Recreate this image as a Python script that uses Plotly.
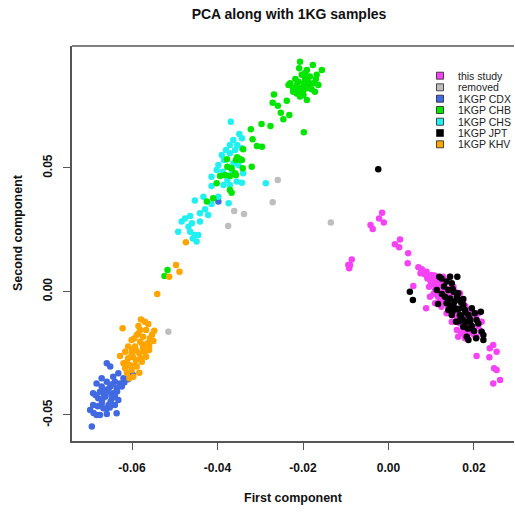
import plotly.graph_objects as go

# ---------------- data ----------------
this_study_x = [-0.0015, -0.0022, -0.0011, -0.0042, -0.0037, 0.0027, 0.0015, 0.0025, 0.0046, 0.0045,
                -0.0086, -0.0090, -0.0094, -0.0092,
                0.0070, 0.0078, 0.0089, 0.0075, 0.0101, 0.0113, 0.0091, 0.0105, 0.0128, 0.0144,
                0.0120, 0.0095, 0.0109, 0.0128, 0.0152, 0.0097, 0.0116, 0.0136, 0.0167, 0.0109,
                0.0124, 0.0144, 0.0175, 0.0088, 0.0136, 0.0152, 0.0187, 0.0210, 0.0148, 0.0167,
                0.0218, 0.0160, 0.0183, 0.0195, 0.0163, 0.0179, 0.0206, 0.0058,
                0.0245, 0.0237, 0.0253, 0.0206, 0.0236, 0.0247, 0.0253, 0.0245, 0.0261,
                0.0085, 0.0095, 0.0105, 0.0115, 0.0100, 0.0110, 0.0120, 0.0130, 0.0125, 0.0135,
                0.0140, 0.0145, 0.0150, 0.0130, 0.0120, 0.0140, 0.0155, 0.0160, 0.0145, 0.0165,
                0.0175, 0.0160, 0.0170, 0.0185, 0.0190, 0.0175, 0.0195, 0.0200, 0.0185, 0.0170,
                0.0115, 0.0105, 0.0098, 0.0090, 0.0080, 0.0125, 0.0108, 0.0135, 0.0155, 0.0165,
                0.0180, 0.0195, 0.0205, 0.0210, 0.0215]
this_study_y = [0.0319, 0.0296, 0.0279, 0.0269, 0.0253, 0.0211, 0.0191, 0.0179, 0.0155, 0.0114,
                0.0130, 0.0107, 0.0107, 0.0094,
                0.0098, 0.0090, 0.0080, 0.0074, 0.0067, 0.0060, 0.0053, 0.0040, 0.0060, 0.0060,
                0.0033, 0.0019, 0.0006, 0.0006, 0.0019, -0.0021, -0.0021, -0.0028, -0.0007, -0.0048,
                -0.0062, -0.0059, -0.0048, -0.0068, -0.0088, -0.0095, -0.0075, -0.0088, -0.0122, -0.0129,
                -0.0122, -0.0156, -0.0163, -0.0149, -0.0183, -0.0189, -0.0183, 0.0022,
                -0.0217, -0.0230, -0.0244, -0.0261, -0.0266, -0.0311, -0.0318, -0.0372, -0.0358,
                0.0070, 0.0060, 0.0050, 0.0045, 0.0030, 0.0020, 0.0010, 0.0020, -0.0010, -0.0005,
                0.0010, -0.0020, -0.0040, -0.0040, -0.0030, -0.0060, -0.0065, -0.0080, -0.0080, -0.0100,
                -0.0110, -0.0110, -0.0130, -0.0135, -0.0120, -0.0150, -0.0165, -0.0175, -0.0175, -0.0170,
                0.0000, -0.0010, 0.0045, 0.0065, 0.0080, 0.0035, 0.0065, 0.0040, 0.0000, -0.0030,
                -0.0060, -0.0090, -0.0110, -0.0140, -0.0160]

removed_x = [-0.0259, -0.0271, -0.0361, -0.0338, -0.0375, -0.0135, -0.0515]
removed_y = [0.0451, 0.0361, 0.0326, 0.0314, 0.0265, 0.0279, -0.0163]

cdx_x = [-0.0659, -0.0651, -0.0632, -0.0671, -0.0644, -0.0620, -0.0609, -0.0683, -0.0659, -0.0640,
         -0.0628, -0.0671, -0.0651, -0.0636, -0.0624, -0.0691, -0.0675, -0.0659, -0.0644, -0.0679,
         -0.0663, -0.0647, -0.0632, -0.0691, -0.0671, -0.0655, -0.0640, -0.0698, -0.0667, -0.0683,
         -0.0675, -0.0659, -0.0636, -0.0694, -0.0598, -0.0398,
         -0.0665, -0.0650, -0.0670, -0.0655, -0.0645, -0.0680, -0.0660, -0.0648, -0.0635, -0.0685,
         -0.0668, -0.0652, -0.0618, -0.0640, -0.0690]
cdx_y = [-0.0291, -0.0304, -0.0331, -0.0351, -0.0345, -0.0351, -0.0355, -0.0372, -0.0365, -0.0365,
         -0.0372, -0.0385, -0.0385, -0.0392, -0.0385, -0.0412, -0.0406, -0.0406, -0.0412, -0.0432,
         -0.0426, -0.0432, -0.0439, -0.0460, -0.0453, -0.0460, -0.0460, -0.0480, -0.0473, -0.0500,
         -0.0500, -0.0496, -0.0493, -0.0547, -0.0338, 0.0364,
         -0.0420, -0.0445, -0.0440, -0.0395, -0.0375, -0.0465, -0.0475, -0.0420, -0.0405, -0.0420,
         -0.0395, -0.0470, -0.0368, -0.0425, -0.0492]

chb_x = [-0.0207, -0.0209, -0.0177, -0.0191, -0.0156, -0.0168, -0.0184, -0.0203, -0.0211, -0.0230,
         -0.0234, -0.0215, -0.0199, -0.0188, -0.0176, -0.0164, -0.0223, -0.0207, -0.0191, -0.0180,
         -0.0215, -0.0199, -0.0172, -0.0191, -0.0207, -0.0223, -0.0199, -0.0211,
         -0.0195, -0.0185, -0.0200, -0.0218, -0.0170, -0.0195,
         -0.0268, -0.0271, -0.0259, -0.0238, -0.0252, -0.0246, -0.0232, -0.0198, -0.0276, -0.0297,
         -0.0322, -0.0318, -0.0308, -0.0296, -0.0340, -0.0320,
         -0.0354, -0.0347, -0.0343, -0.0357, -0.0378, -0.0377, -0.0367, -0.0359, -0.0394, -0.0382,
         -0.0371, -0.0357, -0.0402, -0.0371, -0.0367, -0.0410, -0.0425, -0.0341,
         -0.0517, -0.0524]
chb_y = [0.0930, 0.0904, 0.0917, 0.0897, 0.0897, 0.0877, 0.0870, 0.0877, 0.0849, 0.0843,
         0.0836, 0.0836, 0.0843, 0.0849, 0.0843, 0.0836, 0.0823, 0.0816, 0.0823, 0.0819,
         0.0802, 0.0796, 0.0809, 0.0775, 0.0789, 0.0809, 0.0829, 0.0823,
         0.0860, 0.0835, 0.0810, 0.0860, 0.0860, 0.0885,
         0.0798, 0.0764, 0.0752, 0.0772, 0.0724, 0.0697, 0.0715, 0.0645, 0.0670, 0.0678,
         0.0657, 0.0616, 0.0589, 0.0586, 0.0576, 0.0505,
         0.0543, 0.0535, 0.0532, 0.0532, 0.0535, 0.0505, 0.0499, 0.0479, 0.0468, 0.0472,
         0.0468, 0.0472, 0.0438, 0.0411, 0.0400, 0.0377, 0.0364, 0.0499,
         0.0087, 0.0063]

chs_x = [-0.0369, -0.0349, -0.0343, -0.0363, -0.0371, -0.0354, -0.0343, -0.0359, -0.0380, -0.0390,
         -0.0371, -0.0385, -0.0398, -0.0363, -0.0351, -0.0402, -0.0414, -0.0388, -0.0367, -0.0340,
         -0.0377, -0.0355, -0.0343, -0.0414, -0.0386, -0.0371, -0.0287, -0.0398, -0.0433, -0.0453,
         -0.0414, -0.0374, -0.0429, -0.0441, -0.0422, -0.0464, -0.0476, -0.0484, -0.0460, -0.0441,
         -0.0468, -0.0492, -0.0464, -0.0453, -0.0445, -0.0458, -0.0449]
chs_y = [0.0687, 0.0638, 0.0620, 0.0613, 0.0593, 0.0593, 0.0580, 0.0573, 0.0573, 0.0553,
         0.0560, 0.0532, 0.0512, 0.0519, 0.0512, 0.0492, 0.0465, 0.0485, 0.0492, 0.0479,
         0.0451, 0.0445, 0.0440, 0.0427, 0.0431, 0.0431, 0.0438, 0.0384, 0.0384, 0.0368,
         0.0354, 0.0357, 0.0333, 0.0317, 0.0310, 0.0306, 0.0296, 0.0283, 0.0276, 0.0283,
         0.0262, 0.0242, 0.0242, 0.0229, 0.0229, 0.0215, 0.0202]

jpt_x = [-0.0024, 0.0119, 0.0144, 0.0161, 0.0136, 0.0148, 0.0113, 0.0140, 0.0152, 0.0163,
         0.0050, 0.0057, 0.0132, 0.0144, 0.0167, 0.0116, 0.0136, 0.0152, 0.0175, 0.0140,
         0.0160, 0.0179, 0.0195, 0.0148, 0.0167, 0.0187, 0.0202, 0.0216, 0.0158, 0.0175,
         0.0191, 0.0206, 0.0175, 0.0191, 0.0218, 0.0183, 0.0187, 0.0205, 0.0222, 0.0222,
         0.0124,
         0.0150, 0.0160, 0.0170, 0.0155, 0.0145, 0.0165, 0.0180, 0.0170, 0.0190, 0.0180,
         0.0195, 0.0200, 0.0185, 0.0130, 0.0140, 0.0175, 0.0210, 0.0165, 0.0150, 0.0125]
jpt_y = [0.0495, 0.0060, 0.0060, 0.0060, 0.0040, 0.0033, 0.0006, 0.0006, -0.0001, -0.0007,
         -0.0001, -0.0034, -0.0021, -0.0028, -0.0034, -0.0051, -0.0048, -0.0055, -0.0055, -0.0075,
         -0.0072, -0.0075, -0.0068, -0.0095, -0.0095, -0.0095, -0.0088, -0.0082, -0.0122, -0.0115,
         -0.0122, -0.0115, -0.0143, -0.0149, -0.0163, -0.0183, -0.0196, -0.0189, -0.0196, -0.0176,
         0.0053,
         0.0010, -0.0020, -0.0045, -0.0040, -0.0060, -0.0070, -0.0085, -0.0100, -0.0110, -0.0125,
         -0.0140, -0.0160, -0.0150, 0.0020, -0.0035, -0.0030, -0.0130, -0.0120, -0.0080, -0.0010]

khv_x = [-0.0579, -0.0570, -0.0562, -0.0622, -0.0581, -0.0567, -0.0548, -0.0589, -0.0574, -0.0558,
         -0.0601, -0.0581, -0.0564, -0.0609, -0.0593, -0.0574, -0.0560, -0.0616, -0.0601, -0.0583,
         -0.0567, -0.0628, -0.0609, -0.0591, -0.0577, -0.0620, -0.0606, -0.0589, -0.0616, -0.0601,
         -0.0583, -0.0597, -0.0606,
         -0.0497, -0.0489, -0.0513, -0.0541, -0.0474,
         -0.0585, -0.0595, -0.0575, -0.0590, -0.0598, -0.0570, -0.0612, -0.0595, -0.0585, -0.0553,
         -0.0560, -0.0600, -0.0580, -0.0612, -0.0550]
khv_y = [-0.0113, -0.0122, -0.0132, -0.0149, -0.0156, -0.0156, -0.0159, -0.0176, -0.0183, -0.0189,
         -0.0196, -0.0203, -0.0210, -0.0223, -0.0223, -0.0230, -0.0237, -0.0244, -0.0250, -0.0250,
         -0.0264, -0.0261, -0.0270, -0.0277, -0.0284, -0.0291, -0.0298, -0.0304, -0.0311, -0.0318,
         -0.0329, -0.0345, -0.0351,
         0.0107, 0.0080, 0.0060, -0.0010, 0.0199,
         -0.0140, -0.0190, -0.0215, -0.0240, -0.0265, -0.0245, -0.0285, -0.0300, -0.0170, -0.0175,
         -0.0220, -0.0235, -0.0270, -0.0330, -0.0200]

x_ticks = [-0.06, -0.04, -0.02, 0.00, 0.02]
x_tick_labels = ["-0.06", "-0.04", "-0.02", "0.00", "0.02"]
y_ticks = [-0.05, 0.00, 0.05]
y_tick_labels = ["-0.05", "0.00", "0.05"]

group_names = ["this study", "removed", "1KGP CDX", "1KGP CHB", "1KGP CHS", "1KGP JPT", "1KGP KHV"]
group_colors = ["#F542F5", "#BEBEBE", "#4169E1", "#00E600", "#22F0F0", "#000000", "#FFA500"]

# ---------------- figure ----------------
W, H = 515, 513
L, R, T, B = 72, 1, 46, 72
FONT = "Liberation Sans, Arial, sans-serif"

series = {
    "this study": (this_study_x, this_study_y),
    "removed": (removed_x, removed_y),
    "1KGP CDX": (cdx_x, cdx_y),
    "1KGP CHS": (chs_x, chs_y),
    "1KGP CHB": (chb_x, chb_y),
    "1KGP KHV": (khv_x, khv_y),
    "1KGP JPT": (jpt_x, jpt_y),
}
color_of = dict(zip(group_names, group_colors))

fig = go.Figure()
for name, (xs, ys) in series.items():
    fig.add_trace(go.Scatter(
        x=xs, y=ys, mode="markers", name=name,
        marker=dict(color=color_of[name], size=6.5, line=dict(width=0)),
        showlegend=False,
    ))

axis_font = dict(family=FONT, size=12, color="#111111", weight="bold")
fig.update_layout(
    width=W, height=H,
    margin=dict(l=L, r=R, t=T, b=B, autoexpand=False),
    paper_bgcolor="white", plot_bgcolor="white",
    title=dict(text="PCA along with 1KG samples", x=289 / W, xanchor="center",
               y=1 - 14 / H, yanchor="middle",
               font=dict(family=FONT, size=14, color="#111111", weight="bold")),
    xaxis=dict(range=[-0.07404, 0.02936], tickvals=x_ticks, ticktext=x_tick_labels,
               showgrid=False, zeroline=False, showline=True, linecolor="#555555", linewidth=1.5,
               ticks="outside", ticklen=7, tickwidth=1.2, tickcolor="#555555",
               tickfont=axis_font, ticklabelstandoff=8),
    yaxis=dict(range=[-0.06053, 0.09939], tickvals=y_ticks, ticktext=y_tick_labels,
               showgrid=False, zeroline=False, showline=True, linecolor="#555555", linewidth=1.5,
               ticks="outside", ticklen=7, tickwidth=1.2, tickcolor="#555555",
               tickfont=axis_font, tickangle=-90, ticklabelstandoff=6),
    showlegend=False,
)

# top frame line
fig.add_shape(type="line", xref="paper", yref="paper", x0=0, x1=1, y0=1, y1=1,
              line=dict(color="#555555", width=1.5))

# axis titles
fig.add_annotation(text="First component", xref="paper", yref="paper",
                   x=0.5, y=(H - B - 498) / (H - T - B), xanchor="center", yanchor="middle",
                   showarrow=False, font=dict(family=FONT, size=12.5, color="#111111", weight="bold"))
fig.add_annotation(text="Second component", xref="paper", yref="paper",
                   x=(18 - L) / (W - L - R), y=(H - B - 233) / (H - T - B),
                   xanchor="center", yanchor="middle", textangle=-90,
                   showarrow=False, font=dict(family=FONT, size=12.5, color="#111111", weight="bold"))

# manual legend (compact, like the R legend)
pw, ph = W - L - R, H - T - B
def px_x(p):
    return (p - L) / pw
def px_y(p):
    return (H - B - p) / ph

row_y = [75.7, 87.3, 98.7, 110.0, 121.7, 133.0, 144.3]
for name, col, yy in zip(group_names, group_colors, row_y):
    fig.add_shape(type="rect", xref="paper", yref="paper",
                  x0=px_x(436.5), x1=px_x(443.5), y0=px_y(yy + 3.5), y1=px_y(yy - 3.5),
                  fillcolor=col, line=dict(color="#222222", width=0.8))
    fig.add_annotation(text=name, xref="paper", yref="paper", x=px_x(456), y=px_y(yy),
                       xanchor="left", yanchor="middle", showarrow=False,
                       font=dict(family=FONT, size=10.5, color="#222222"))

fig.write_html("out.html", config={"displayModeBar": False},
               post_script="document.body.style.margin='0';document.body.style.overflow='hidden';")
